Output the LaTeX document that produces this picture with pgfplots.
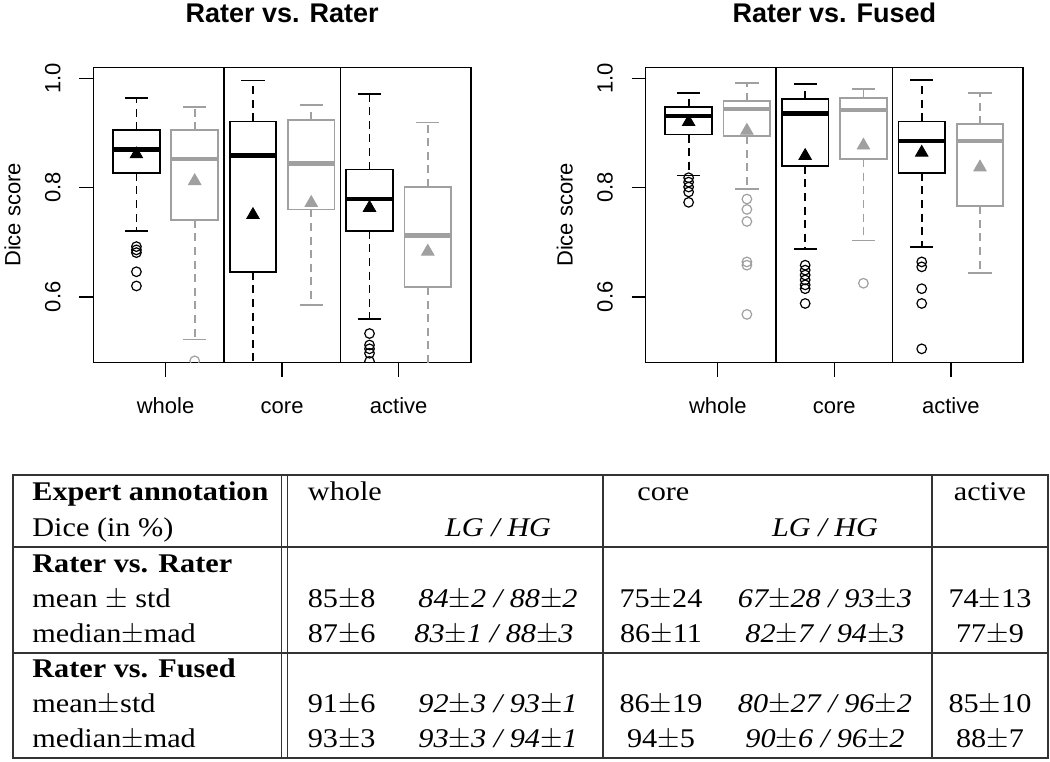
\documentclass[border=0pt]{standalone}
\usepackage{pgfplots}
\pgfplotsset{compat=1.18}
\usepgfplotslibrary{statistics}
\usepackage{fontspec}
\setmainfont{Liberation Serif}[FakeStretch=1.12]
\newfontfamily\chartfont{Liberation Sans}

\definecolor{rgray}{RGB}{160,160,160}

\pgfplotsset{
  rbox/.style={
    line width=0.9pt,
    boxplot/draw direction=y,
    boxplot/box extend=0.4,
    boxplot/whisker extend=0.2,
    boxplot/every median/.style={line width=2.3pt},
    boxplot/draw/lower whisker/.code={%
      \draw[dash pattern=on 4pt off 2.8pt]
        (boxplot box cs:\pgfplotsboxplotvalue{lower quartile},0.5) --
        (boxplot box cs:\pgfplotsboxplotvalue{lower whisker},0.5);
      \draw[solid]
        (boxplot whisker cs:\pgfplotsboxplotvalue{lower whisker},0) --
        (boxplot whisker cs:\pgfplotsboxplotvalue{lower whisker},1);
    },
    boxplot/draw/upper whisker/.code={%
      \draw[dash pattern=on 4pt off 2.8pt]
        (boxplot box cs:\pgfplotsboxplotvalue{upper quartile},0.5) --
        (boxplot box cs:\pgfplotsboxplotvalue{upper whisker},0.5);
      \draw[solid]
        (boxplot whisker cs:\pgfplotsboxplotvalue{upper whisker},0) --
        (boxplot whisker cs:\pgfplotsboxplotvalue{upper whisker},1);
    },
  },
  outl/.style={only marks, mark=o, mark size=2.4pt, mark options={line width=0.6pt}},
  meanm/.style={only marks, mark=triangle*, mark size=3.6pt},
  rpanel/.style={
    scale only axis, width=188.8pt, height=147.6pt, anchor=north west,
    xmin=0.38, xmax=3.62, ymin=0.48, ymax=1.02,
    clip marker paths=true,
    axis line style={line width=0.7pt},
    tick align=outside, major tick length=7pt,
    tick style={line width=0.7pt, black},
    xtick pos=bottom, ytick pos=left,
    xtick={1,2,3}, xticklabels={whole,core,active},
    ytick={0.6,0.8,1.0}, yticklabels={0.6,0.8,1.0},
    extra x ticks={1.5,2.5}, extra x tick labels={},
    extra x tick style={grid=major, major grid style={black, line width=0.7pt}, major tick length=0pt},
    xticklabel style={font=\chartfont\fontsize{11}{13}\selectfont, anchor=base, yshift=-18.5pt},
    yticklabel style={font=\chartfont\fontsize{11}{13}\selectfont, anchor=base, xshift=-9.5pt, rotate=90},
    ylabel={Dice score},
    every axis y label/.style={at={([xshift=-36.5pt]axis description cs:0,0.5)}, anchor=base, rotate=90,
      font=\chartfont\fontsize{11}{13}\selectfont},
    every axis title/.style={at={(axis description cs:0.5,1)}, anchor=base, yshift=22.5pt,
      font=\chartfont\bfseries\fontsize{13.5}{16}\selectfont},
  },
}

\begin{document}
\begin{tikzpicture}

% ---------- Rater vs. Rater ----------
\begin{axis}[rpanel, at={(46.65pt,-33.65pt)}, title={Rater vs. Rater}]
\addplot[black, rbox, boxplot prepared={draw position=0.75, lower whisker=0.720, lower quartile=0.827, median=0.870, upper quartile=0.905, upper whisker=0.964}] coordinates {};
\addplot[rgray, rbox, boxplot prepared={draw position=1.25, lower whisker=0.522, lower quartile=0.741, median=0.852, upper quartile=0.905, upper whisker=0.948}] coordinates {};
\addplot[black, rbox, boxplot prepared={draw position=1.75, lower whisker=0.400, lower quartile=0.646, median=0.859, upper quartile=0.921, upper whisker=0.996}] coordinates {};
\addplot[rgray, rbox, boxplot prepared={draw position=2.25, lower whisker=0.585, lower quartile=0.760, median=0.844, upper quartile=0.924, upper whisker=0.951}] coordinates {};
\addplot[black, rbox, boxplot prepared={draw position=2.75, lower whisker=0.560, lower quartile=0.721, median=0.779, upper quartile=0.833, upper whisker=0.971}] coordinates {};
\addplot[rgray, rbox, boxplot prepared={draw position=3.25, lower whisker=0.400, lower quartile=0.618, median=0.712, upper quartile=0.801, upper whisker=0.919}] coordinates {};
% outliers
\addplot[black, outl] coordinates {(0.75,0.692) (0.75,0.686) (0.75,0.681) (0.75,0.646) (0.75,0.620)
  (2.75,0.533) (2.75,0.512) (2.75,0.505) (2.75,0.497) (2.75,0.482)};
\addplot[rgray, outl] coordinates {(1.25,0.483)};
% means
\addplot[black, meanm] coordinates {(0.75,0.861) (1.75,0.750) (2.75,0.763)};
\addplot[rgray, meanm] coordinates {(1.25,0.812) (2.25,0.772) (3.25,0.683)};
\end{axis}

% ---------- Rater vs. Fused ----------
\begin{axis}[rpanel, at={(322.75pt,-33.65pt)}, title={Rater vs. Fused}]
\addplot[black, rbox, boxplot prepared={draw position=0.75, lower whisker=0.822, lower quartile=0.897, median=0.931, upper quartile=0.948, upper whisker=0.973}] coordinates {};
\addplot[rgray, rbox, boxplot prepared={draw position=1.25, lower whisker=0.798, lower quartile=0.894, median=0.944, upper quartile=0.959, upper whisker=0.991}] coordinates {};
\addplot[black, rbox, boxplot prepared={draw position=1.75, lower whisker=0.687, lower quartile=0.840, median=0.936, upper quartile=0.962, upper whisker=0.989}] coordinates {};
\addplot[rgray, rbox, boxplot prepared={draw position=2.25, lower whisker=0.703, lower quartile=0.852, median=0.942, upper quartile=0.964, upper whisker=0.980}] coordinates {};
\addplot[black, rbox, boxplot prepared={draw position=2.75, lower whisker=0.692, lower quartile=0.827, median=0.885, upper quartile=0.921, upper whisker=0.997}] coordinates {};
\addplot[rgray, rbox, boxplot prepared={draw position=3.25, lower whisker=0.644, lower quartile=0.766, median=0.885, upper quartile=0.916, upper whisker=0.973}] coordinates {};
% outliers
\addplot[black, outl] coordinates {(0.75,0.818) (0.75,0.810) (0.75,0.801) (0.75,0.792) (0.75,0.773)
  (1.75,0.658) (1.75,0.649) (1.75,0.640) (1.75,0.631) (1.75,0.622) (1.75,0.615) (1.75,0.588)
  (2.75,0.664) (2.75,0.655) (2.75,0.615) (2.75,0.588) (2.75,0.505)};
\addplot[rgray, outl] coordinates {(1.25,0.779) (1.25,0.760) (1.25,0.738) (1.25,0.664) (1.25,0.658) (1.25,0.568)
  (2.25,0.625)};
% means
\addplot[black, meanm] coordinates {(0.75,0.920) (1.75,0.858) (2.75,0.864)};
\addplot[rgray, meanm] coordinates {(1.25,0.904) (2.25,0.877) (3.25,0.837)};
\end{axis}

% ---------- table (pixel coordinates) ----------
\begin{scope}[x=0.5pt, y=-0.5pt, line width=0.65pt, draw=black!80,
  every node/.style={inner sep=0pt, font=\fontsize{13.5}{16}\selectfont}]
\draw (13,475) rectangle (1048,758);
\draw (13,547) -- (1048,547);
\draw (13,653) -- (1048,653);
\draw (281.7,475) -- (281.7,758);
\draw (287.3,475) -- (287.3,758);
\draw (603,475) -- (603,758);
\draw (932,475) -- (932,758);

% first column
\node[anchor=base west] at (31.7,500) {\textbf{Expert annotation}};
\node[anchor=base west] at (31.7,536) {Dice (in \%)};
\node[anchor=base west] at (31.7,572) {\textbf{Rater vs. Rater}};
\node[anchor=base west] at (31.7,607) {mean $\pm$ std};
\node[anchor=base west] at (31.7,642) {median$\pm$mad};
\node[anchor=base west] at (31.7,677) {\textbf{Rater vs. Fused}};
\node[anchor=base west] at (31.7,712) {mean$\pm$std};
\node[anchor=base west] at (31.7,747) {median$\pm$mad};

% headers
\node[anchor=base west] at (307.3,500) {whole};
\node[anchor=base] at (498,536) {\textit{LG / HG}};
\node[anchor=base west] at (636.7,500) {core};
\node[anchor=base] at (825,536) {\textit{LG / HG}};
\node[anchor=base] at (990,500) {active};

% whole
\node[anchor=base] at (341.7,607) {85$\pm$8};
\node[anchor=base] at (341.7,642) {87$\pm$6};
\node[anchor=base] at (341.7,712) {91$\pm$6};
\node[anchor=base] at (341.7,747) {93$\pm$3};
\node[anchor=base] at (498,607) {\textit{84$\pm$2 / 88$\pm$2}};
\node[anchor=base] at (494,642) {\textit{83$\pm$1 / 88$\pm$3}};
\node[anchor=base] at (498,712) {\textit{92$\pm$3 / 93$\pm$1}};
\node[anchor=base] at (498,747) {\textit{93$\pm$3 / 94$\pm$1}};

% core
\node[anchor=base] at (661,607) {75$\pm$24};
\node[anchor=base] at (661,642) {86$\pm$11};
\node[anchor=base] at (661,712) {86$\pm$19};
\node[anchor=base] at (661,747) {94$\pm$5};
\node[anchor=base] at (825,607) {\textit{67$\pm$28 / 93$\pm$3}};
\node[anchor=base] at (825,642) {\textit{82$\pm$7 / 94$\pm$3}};
\node[anchor=base] at (825,712) {\textit{80$\pm$27 / 96$\pm$2}};
\node[anchor=base] at (825,747) {\textit{90$\pm$6 / 96$\pm$2}};

% active
\node[anchor=base] at (990,607) {74$\pm$13};
\node[anchor=base] at (990,642) {77$\pm$9};
\node[anchor=base] at (990,712) {85$\pm$10};
\node[anchor=base] at (990,747) {88$\pm$7};
\end{scope}

\pgfresetboundingbox
\path[use as bounding box] (0pt,0pt) rectangle (525pt,-380.5pt);
\end{tikzpicture}
\end{document}
